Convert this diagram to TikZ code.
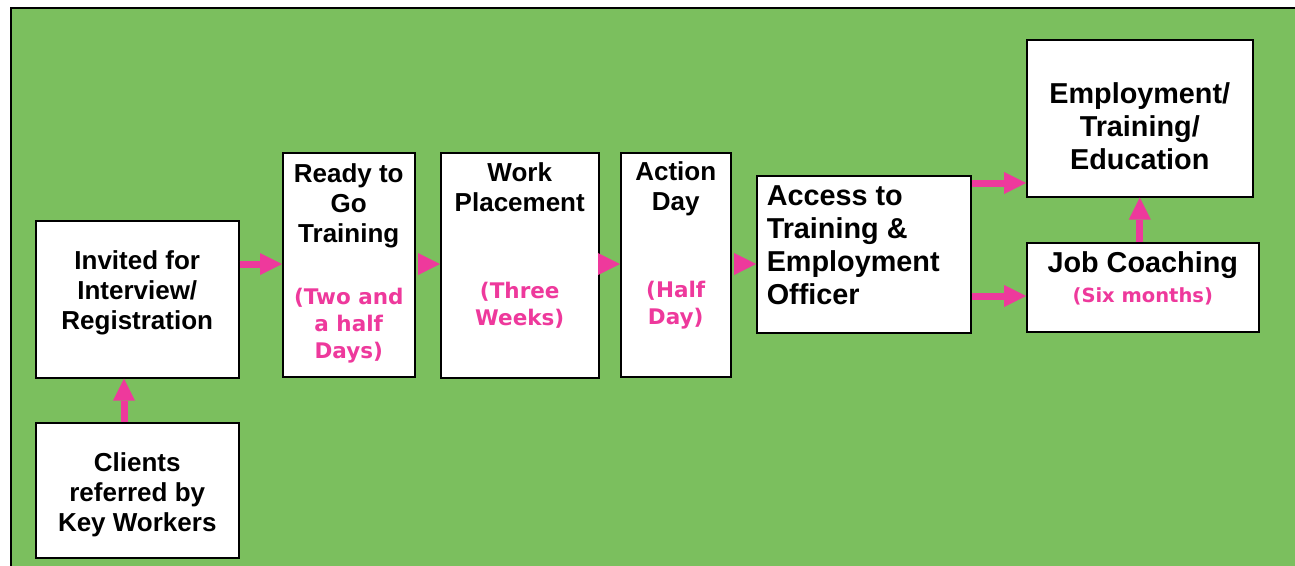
\documentclass[tikz,border=0pt]{standalone}
\usepackage{fontspec}
\setmainfont{Liberation Sans}
\newfontfamily\pinkfont{DejaVu Sans}
\usetikzlibrary{arrows.meta}
\definecolor{tgreen}{RGB}{123,191,94}
\definecolor{tpink}{RGB}{238,57,156}
\setlength{\parskip}{0pt}
\newcommand{\boxbody}[4]{\parbox[c][#1][t]{#2}{\centering\rule{0pt}{#3}#4}}
\newcommand{\subtext}[4]{\par\vspace{#1}{\fontsize{#2}{#3}\selectfont\pinkfont\bfseries\leavevmode\color{tpink}#4\par}}

\begin{document}
\begin{tikzpicture}[x=1pt,y=-1pt]
		\tikzset{box/.style={draw,fill=white,line width=1.5pt,inner sep=0pt,anchor=north west,
				font=\fontsize{26}{30}\selectfont\bfseries}};
		\tikzset{bigbox/.style={box,font=\fontsize{28.8}{33}\selectfont\bfseries}};
		\tikzset{flow/.style={draw=tpink,line width=7pt,
				-{Triangle[length=22pt,width=22pt,line width=0pt]}}};
		
		\clip (0,0) rectangle (1295,565);
		\draw[fill=tgreen,line width=2pt] (11,8) rectangle (1320,590);
		
		\node[box] (invited) at (35,220) {\boxbody{157pt}{203pt}{49pt}{Invited for\\Interview/\\Registration}};
		\node[box] (clients) at (35,422) {\boxbody{135pt}{203pt}{49pt}{Clients\\referred by\\Key Workers}};
		\node[box] (ready) at (282,152) {\boxbody{224pt}{132pt}{30pt}{Ready to\\Go\\Training
				\subtext{35pt}{21.5}{27}{(Two and\\a half\\Days)}}};
		\node[box] (work) at (440,152) {\boxbody{225pt}{158pt}{29pt}{Work\\Placement
				\subtext{60pt}{21.5}{27}{(Three\\Weeks)}}};
		\node[box] (action) at (620,152) {\boxbody{224pt}{110pt}{28pt}{Action\\Day
				\subtext{60pt}{21.5}{27}{(Half\\Day)}}};
		\node[bigbox] (access) at (756,175) {\boxbody{157pt}{214pt}{30pt}{\raggedright\leftskip=10pt
				Access to\\Training \&\\Employment\\Officer}};
		\node[bigbox] (employ) at (1026,39) {\boxbody{157pt}{226pt}{64pt}{Employment/\\Training/\\Education}};
		\node[bigbox] (coach) at (1026,242) {\boxbody{89pt}{232pt}{30pt}{Job Coaching
				\subtext{0pt}{19.5}{30}{(Six months)}}};
		
		\coordinate (mid) at (0,264);
		\coordinate (hi) at (0,183);
		\coordinate (lo) at (0,296);
		\coordinate (up) at (124,0);
		\draw[flow] (invited.east |- mid) -- (ready.west |- mid);
		\draw[flow,shorten <=4pt] (ready.east |- mid) -- (work.west |- mid);
		\draw[flow] (work.east |- mid) -- (action.west |- mid);
		\draw[flow,shorten <=4pt] (action.east |- mid) -- (access.west |- mid);
		\draw[flow] (access.east |- hi) -- (employ.west |- hi);
		\draw[flow] (access.east |- lo) -- (coach.west |- lo);
		\draw[flow] (coach.north -| employ.south) -- (employ.south);
		\draw[flow] (clients.north -| up) -- (invited.south -| up);
\end{tikzpicture}
\end{document}
